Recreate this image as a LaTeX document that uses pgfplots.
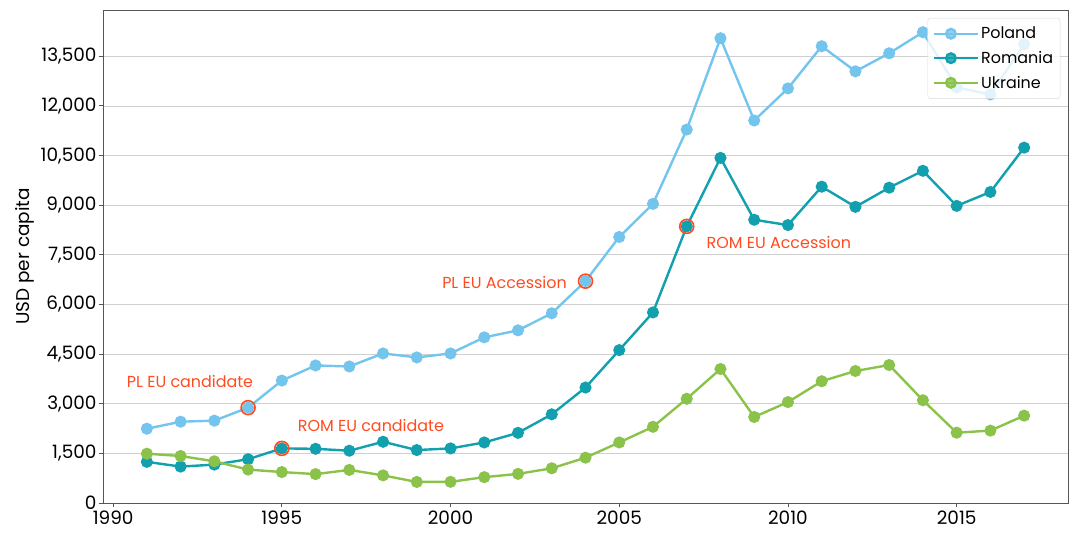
\documentclass[border=0pt]{standalone}
\usepackage{fontspec}
\setmainfont{Poppins}
\usepackage{pgfplots}
\pgfplotsset{compat=1.18}
\definecolor{pl}{HTML}{74C5EE}
\definecolor{ro}{HTML}{13A0AE}
\definecolor{ua}{HTML}{8BC34A}
\definecolor{ann}{HTML}{FF4B1F}
\definecolor{spine}{HTML}{555555}
\definecolor{gridc}{HTML}{D0D0D0}
\begin{document}
\begin{tikzpicture}
\begin{axis}[
  scale only axis, width=965bp, height=493bp,
  xmin=1989.7, xmax=2018.3, ymin=0, ymax=14900,
  xtick={1990,1995,...,2015}, ytick={0,1500,...,13500},
  scaled y ticks=false, scaled x ticks=false,
  xticklabel style={/pgf/number format/1000 sep=},
  yticklabel style={/pgf/number format/fixed, /pgf/number format/1000 sep={,}, xshift=1bp},
  /pgf/number format/assume math mode=true,
  tick label style={font=\fontsize{18.5}{21}\selectfont},
  label style={font=\fontsize{18.5}{21}\selectfont},
  ymajorgrids, grid style={gridc, line width=0.8bp},
  axis line style={spine, line width=0.9bp},
  tick style={spine, line width=0.9bp},
  tick align=outside, major tick length=4bp,
  xtick pos=bottom, ytick pos=left,
  ylabel={USD per capita},
  legend style={at={(0.992,0.984)}, anchor=north east, draw=gray!30, rounded corners=3pt,
    fill=white, fill opacity=0.8, text opacity=1, font=\fontsize{16}{19}\selectfont,
    row sep=7bp, inner xsep=5bp, inner ysep=7bp, nodes={inner sep=2bp}},
  legend cell align=left,
  legend image code/.code={\draw[mark repeat=2,mark phase=2] plot coordinates {(0bp,0bp) (17bp,0bp) (34bp,0bp)};
    \path (0bp,0bp) -- (44bp,0bp);},
  every axis plot/.append style={line width=2.4bp, mark=*, mark size=4.8bp},
]
\addplot[pl, mark options={fill=pl, draw=pl}] coordinates {
(1991,2245) (1992,2457) (1993,2488) (1994,2882) (1995,3700) (1996,4157) (1997,4126)
(1998,4520) (1999,4400) (2000,4520) (2001,5006) (2002,5218) (2003,5734) (2004,6705)
(2005,8040) (2006,9041) (2007,11286) (2008,14047) (2009,11560) (2010,12530) (2011,13805)
(2012,13046) (2013,13592) (2014,14229) (2015,12560) (2016,12348) (2017,13865)};
\addlegendentry{Poland}
\addplot[ro, mark options={fill=ro, draw=ro}] coordinates {
(1991,1244) (1992,1100) (1993,1160) (1994,1323) (1995,1650) (1996,1638) (1997,1580)
(1998,1850) (1999,1600) (2000,1650) (2001,1830) (2002,2120) (2003,2680) (2004,3490)
(2005,4620) (2006,5760) (2007,8360) (2008,10430) (2009,8560) (2010,8400) (2011,9560)
(2012,8950) (2013,9530) (2014,10040) (2015,8980) (2016,9400) (2017,10740)};
\addlegendentry{Romania}
\addplot[ua, mark options={fill=ua, draw=ua}] coordinates {
(1991,1490) (1992,1420) (1993,1260) (1994,1010) (1995,935) (1996,873) (1997,1000)
(1998,835) (1999,636) (2000,640) (2001,781) (2002,880) (2003,1049) (2004,1370)
(2005,1830) (2006,2303) (2007,3150) (2008,4050) (2009,2600) (2010,3050) (2011,3680)
(2012,3990) (2013,4170) (2014,3105) (2015,2125) (2016,2188) (2017,2640)};
\addlegendentry{Ukraine}
\addplot[only marks, mark=o, mark size=7bp, draw=ann, line width=1.6bp, forget plot]
  coordinates {(1994,2882) (2004,6705) (1995,1650) (2007,8360)};
\node[ann, font=\fontsize{16}{19}\selectfont] at (axis cs:1992.28,3671) {PL EU candidate};
\node[ann, font=\fontsize{16}{19}\selectfont] at (axis cs:1997.64,2336) {ROM EU candidate};
\node[ann, font=\fontsize{16}{19}\selectfont] at (axis cs:2001.6,6675) {PL EU Accession};
\node[ann, font=\fontsize{16}{19}\selectfont] at (axis cs:2009.73,7858) {ROM EU Accession};
\end{axis}
\path (current axis.south west) ++(-103bp,-37bp) coordinate (bl);
\path (current axis.north east) ++(12bp,10bp) coordinate (tr);
\path (bl) rectangle (tr);
\end{tikzpicture}
\end{document}
